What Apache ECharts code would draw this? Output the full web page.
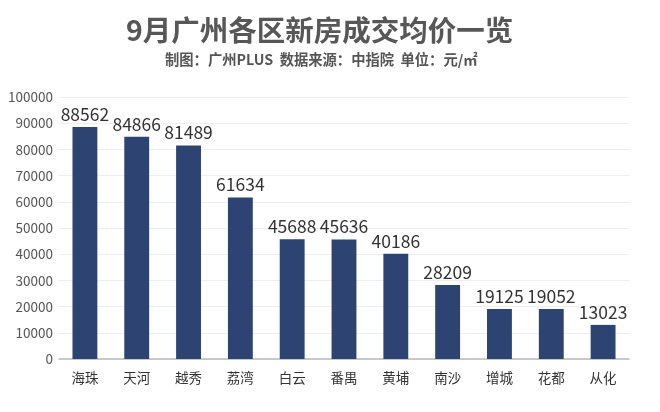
<!DOCTYPE html>
<html><head><meta charset="utf-8">
<script src="https://cdn.jsdelivr.net/npm/echarts@6/dist/echarts.min.js"></script>
<style>html,body{margin:0;padding:0;background:#fff}#c{width:660px;height:412px}</style>
</head><body><div id="c"></div>
<script>
const categories = ['海珠','天河','越秀','荔湾','白云','番禺','黄埔','南沙','增城','花都','从化'];
const prices = [88562,84866,81489,61634,45688,45636,40186,28209,19125,19052,13023];
const yTicks = {min:0, max:100000, interval:10000};
const chart = echarts.init(document.getElementById('c'), null, {renderer:'canvas'});
chart.setOption({
  animation:false,
  backgroundColor:'#fff',
  title:[{
    text:'9月广州各区新房成交均价一览', left:121, top:11,
    textStyle:{fontSize:28.5, fontWeight:'bold', color:'#575757', fontFamily:'Noto Sans CJK SC'}
  },{
    text:'制图：广州PLUS  数据来源：中指院  单位：元/㎡', left:160, top:47,
    textStyle:{fontSize:14.3, fontWeight:'bold', color:'#555', fontFamily:'Noto Sans CJK SC'}
  }],
  grid:{left:59, right:31, top:97, bottom:53},
  xAxis:{type:'category', data:categories,
    axisLine:{lineStyle:{color:'#bbb', width:1.5}}, axisTick:{show:false},
    axisLabel:{fontSize:13.5, color:'#333', margin:12, fontFamily:'Noto Sans CJK SC'}},
  yAxis:{type:'value', min:yTicks.min, max:yTicks.max, interval:yTicks.interval,
    axisLine:{show:false}, axisTick:{show:false},
    splitLine:{lineStyle:{color:'#eee'}},
    axisLabel:{fontSize:13.5, color:'#555', margin:6, fontFamily:'Noto Sans CJK SC',
      formatter:function(v){return String(v);}}},
  series:[{type:'bar', data:prices, barWidth:'48%',
    itemStyle:{color:'#2d4372'},
    label:{show:true, position:'top', fontSize:17.5, color:'#333', distance:4, fontFamily:'Noto Sans CJK SC'}}]
});
</script></body></html>
